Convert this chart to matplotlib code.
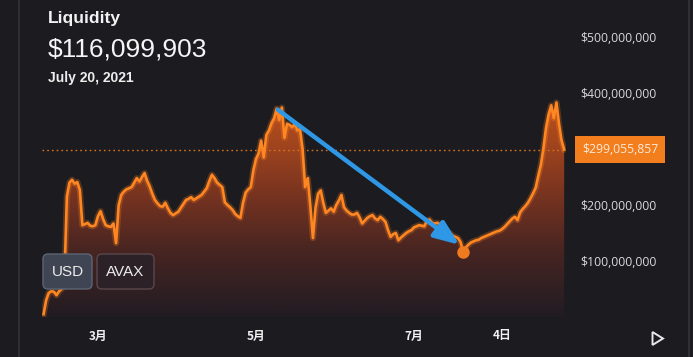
import numpy as np
import pandas as pd
import matplotlib
matplotlib.use("Agg")
import matplotlib.pyplot as plt
import matplotlib.dates as mdates
from matplotlib.colors import LinearSegmentedColormap
from matplotlib.patches import FancyBboxPatch, Polygon
from matplotlib.transforms import IdentityTransform, blended_transform_factory

# ---------------- data ----------------
start_date = "2021-02-08"
# daily liquidity in millions of USD (Feb 8 .. Aug 28, 2021)
liq_feb = [5, 30, 43, 46, 45, 39, 46, 50, 60, 215, 240, 245, 238, 241, 227, 164, 166, 168, 163, 162, 164]
liq_mar = [180, 189, 175, 164, 162, 161, 167, 132, 200, 218, 224, 228, 230, 232, 240, 248, 242, 250, 257, 243,
           233, 220, 209, 203, 198, 197, 204, 194, 186, 182, 185]
liq_apr = [188, 195, 202, 209, 211, 214, 209, 212, 215, 218, 224, 230, 243, 254, 248, 240, 236, 232, 205, 200,
           196, 191, 184, 180, 177, 204, 222, 228, 232, 262]
liq_may = [282, 292, 315, 285, 325, 333, 346, 355, 372, 352, 374, 320, 345, 343, 339, 345, 333, 336, 300, 232,
           248, 198, 141, 195, 220, 226, 204, 186, 190, 194, 188]
liq_jun = [200, 208, 218, 196, 190, 186, 183, 183, 186, 178, 167, 172, 177, 180, 182, 176, 173, 179, 175, 170,
           155, 143, 148, 150, 137, 142, 146, 150, 153, 155]
liq_jul = [160, 162, 164, 163, 162, 172, 174, 168, 167, 168, 166, 162, 157, 152, 149, 145, 143, 141, 134,
           116.099903, 124, 129, 133, 135, 137, 138, 141, 143, 145, 147, 149]
liq_aug = [151, 153, 154, 157, 161, 166, 171, 176, 179, 173, 187, 193, 198, 204, 212, 221, 231, 252, 272, 302,
           338, 362, 378, 355, 383, 345, 315, 299.055857]

tick_dates = ["2021-03-01", "2021-05-01", "2021-07-01", "2021-08-04"]
tick_labels = ["3月", "5月", "7月", "4日"]
ytick_values = [100e6, 200e6, 300e6, 400e6, 500e6]
ytick_labels = ["$100,000,000", "$200,000,000", "", "$400,000,000", "$500,000,000"]

current_value = 299_055_857
hover_date = "2021-07-20"
hover_value = 116_099_903
title_text = "Liquidity"
date_text = "July 20, 2021"
button_labels = ["USD", "AVAX"]
arrow_from = ("2021-05-09 12:00", 370e6)
arrow_to = ("2021-07-18 12:00", 129e6)

# ---------------- figure ----------------
W, H = 693, 357
BG = "#1c1b20"
ORANGE = "#ff8620"

fig = plt.figure(figsize=(W / 100, H / 100), dpi=100, facecolor=BG)
ax = fig.add_axes([42 / W, (H - 317) / H, (566 - 42) / W, 317 / H])
ax.set_facecolor(BG)

values = np.array(liq_feb + liq_mar + liq_apr + liq_may + liq_jun + liq_jul + liq_aug) * 1e6
dates = pd.date_range(start_date, periods=len(values), freq="D")
x = mdates.date2num(dates.to_pydatetime())

ax.set_xlim(x[0] - 0.6, x[-1] + 0.7)
ymax = 317 / 0.56 * 1e6
ax.set_ylim(0, ymax)

# gradient fill under the curve
fill = ax.fill_between(x, values, 0, facecolor="none", edgecolor="none")
cmap = LinearSegmentedColormap.from_list(
    "liq", [(0.0, "#211c22"), (0.3, "#472522"), (0.55, "#763320"), (0.8, "#a2451e"), (1.0, "#c0521c")])
grad = np.linspace(0, 1, 256).reshape(-1, 1)
im = ax.imshow(grad, extent=[x[0], x[-1], 0, 390e6], origin="lower", aspect="auto",
               cmap=cmap, zorder=1, interpolation="bilinear")
im.set_clip_path(fill.get_paths()[0], transform=ax.transData)
ax.set_xlim(x[0] - 0.6, x[-1] + 0.7)
ax.set_ylim(0, ymax)

# glow + line
ax.plot(x, values, color=ORANGE, lw=4.5, alpha=0.25, zorder=2, solid_joinstyle="round")
ax.plot(x, values, color=ORANGE, lw=1.9, zorder=3, solid_joinstyle="round")

# current value dotted line
ax.axhline(current_value, color="#d8731e", lw=1.0, ls=(0, (1.2, 2.2)), zorder=2)

# hover dot
hx = mdates.date2num(pd.Timestamp(hover_date).to_pydatetime())
ax.plot([hx], [hover_value], "o", ms=8, color="#f07a1f", zorder=4)

# blue arrow annotation
ax.annotate("", xy=(mdates.date2num(pd.Timestamp(arrow_to[0]).to_pydatetime()), arrow_to[1]),
            xytext=(mdates.date2num(pd.Timestamp(arrow_from[0]).to_pydatetime()), arrow_from[1]),
            arrowprops=dict(arrowstyle="-|>,head_length=1.5,head_width=0.6", color="#2f98e6",
                            lw=3.2, shrinkA=0, shrinkB=0), zorder=5)

# axes styling
for s in ax.spines.values():
    s.set_visible(False)
ax.yaxis.tick_right()
ax.set_yticks(ytick_values)
ax.set_yticklabels(ytick_labels, fontsize=8.8, color="#d8d8d8", family=["Open Sans", "DejaVu Sans"])
ax.tick_params(axis="y", length=0, pad=10)
ax.set_xticks([mdates.date2num(pd.Timestamp(d).to_pydatetime()) for d in tick_dates])
ax.set_xticklabels(tick_labels, fontsize=8.5, color="#f0f0f0", fontweight="bold",
                   family=["Noto Sans CJK JP", "DejaVu Sans"])
ax.tick_params(axis="x", length=0, pad=9)

# current value label box
tr = blended_transform_factory(ax.transAxes, ax.transData)
ax.text(1.0 + 16 / 524, current_value, f"${current_value:,}", transform=tr, ha="left", va="center",
        fontsize=8.8, color="#ffeadc", family=["Open Sans", "DejaVu Sans"], zorder=6,
        bbox=dict(boxstyle="square,pad=0.55", fc="#f27e1d", ec="none"))

# header texts
fig.text(48 / W, (H - 23) / H, title_text, fontsize=12.6, fontweight="bold", color="#f2f2f2",
         family=["Liberation Sans", "DejaVu Sans"], va="baseline")
fig.text(48 / W, (H - 57) / H, f"${hover_value:,}", fontsize=19, color="#f5f5f5",
         family=["Liberation Sans", "DejaVu Sans"], va="baseline")
fig.text(48 / W, (H - 82) / H, date_text, fontsize=10, fontweight="bold", color="#eeeeee",
         family=["Liberation Sans", "DejaVu Sans"], va="baseline")

# buttons
idt = IdentityTransform()
btns = [(43, 49, "#3f4552", "#5d6472"), (97, 57, "#2c2126", "#5a474d")]
for (bx, bw, fc, ec), lab in zip(btns, button_labels):
    p = FancyBboxPatch((bx, H - 289), bw, 35, boxstyle="round,pad=0,rounding_size=5",
                       fc=fc, ec=ec, lw=1.0, transform=idt, zorder=10)
    fig.add_artist(p)
    fig.text((bx + bw / 2) / W, (H - 271.5) / H, lab, fontsize=11, color="#ececec",
             family=["Liberation Sans", "DejaVu Sans"], ha="center", va="center", zorder=11)

# play triangle
tri = Polygon([(652.5, H - 332), (652.5, H - 345), (663, H - 338.5)], closed=True, fill=False,
              ec="#e8e8e8", lw=1.4, transform=idt, zorder=10)
fig.add_artist(tri)

# frame lines
fig.add_artist(plt.Line2D([18.5, 18.5], [0, H], color="#2f2f35", lw=1.5, transform=idt))
fig.add_artist(plt.Line2D([688.5, 688.5], [0, H], color="#2f2f35", lw=1.5, transform=idt))

fig.savefig("out.png", dpi=100, facecolor=BG)
